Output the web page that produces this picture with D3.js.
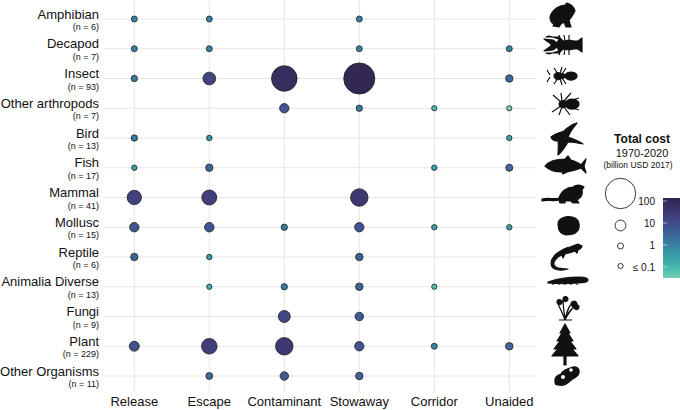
<!DOCTYPE html>
<html lang="en">
<head>
<meta charset="UTF-8">
<title>Invasion costs by pathway</title>
<style>
  body { margin: 0; background: #fff; }
  svg { display: block; font-family: "Liberation Sans", Arial, Helvetica, sans-serif; }
</style>
</head>
<body>
<div id="container"></div>
<script src="https://d3js.org/d3.v7.min.js"></script>
<script>
// taxa (rows), sample sizes and introduction pathways (columns)
var taxa = ["Amphibian", "Decapod", "Insect", "Other arthropods", "Bird", "Fish", "Mammal",
            "Mollusc", "Reptile", "Animalia Diverse", "Fungi", "Plant", "Other Organisms"];
var counts = [6, 7, 93, 7, 13, 17, 41, 15, 6, 13, 9, 229, 11];
var pathways = ["Release", "Escape", "Contaminant", "Stowaway", "Corridor", "Unaided"];

// total cost 1970-2020, billion USD 2017 (null = no recorded cost)
var costs = [
  [1.0, 1.0, null, 1.0, null, null],
  [1.0, 1.0, null, 1.0, null, 1.0],
  [1.5, 15, 70, 105, null, 3],
  [null, null, 6.7, 1.5, 0.1, 0.02],
  [1.5, 0.4, null, null, null, 0.25],
  [0.25, 3, null, null, 0.3, 2.5],
  [20, 22, null, 31, null, null],
  [6.7, 7, 1.5, 6.7, 0.3, 0.3],
  [3, 0.3, null, 3.3, null, null],
  [null, 0.15, 1.4, 3.3, 0.08, null],
  [null, null, 13, 5, null, null],
  [8, 24, 31, 6.7, 1.0, 3.3],
  [null, 2.3, 5, 3.3, null, null]
];

var legendBreaks = [100, 10, 1, 0.1];
var legendLabels = ["100", "10", "1", "\u2264 0.1"];

var width = 680, height = 410;

var svg = d3.select("#container").append("svg")
    .attr("width", width)
    .attr("height", height);

// scales
var x = d3.scalePoint().domain(pathways).range([134.3, 509.3]);
var y = d3.scalePoint().domain(taxa).range([19, 376]);
var r = d3.scaleRadial().domain([0, 100]).range([2.6, 15.2]);

// mako palette
var mako = d3.interpolateRgbBasis(["#0B0405", "#2C1E3D", "#3E356B", "#434C8E", "#3A74A0",
    "#359CAA", "#49C1AD", "#A0DFB9", "#DEF5E5"]);
var logPos = d3.scaleLinear().domain([2.14, -1.55]).range([0.16, 0.82]).clamp(true);
var color = function(v) { return mako(logPos(Math.log10(v))); };

// grid
var grid = svg.append("g").attr("stroke", "#e6e6e6").attr("stroke-width", 1);
grid.selectAll("line.h").data(taxa).enter().append("line")
    .attr("x1", 104).attr("x2", 536)
    .attr("y1", function(d) { return y(d); })
    .attr("y2", function(d) { return y(d); });
grid.selectAll("line.v").data(pathways).enter().append("line")
    .attr("x1", function(d) { return x(d); })
    .attr("x2", function(d) { return x(d); })
    .attr("y1", 0).attr("y2", 392);

// bubbles, biggest drawn first
var cells = [];
costs.forEach(function(row, i) {
  row.forEach(function(v, j) {
    if (v != null) cells.push({ taxon: taxa[i], path: pathways[j], value: v });
  });
});
cells.sort(function(a, b) { return b.value - a.value; });

svg.append("g").selectAll("circle").data(cells).enter().append("circle")
    .attr("cx", function(d) { return x(d.path); })
    .attr("cy", function(d) { return y(d.taxon); })
    .attr("r", function(d) { return r(d.value); })
    .attr("fill", function(d) { return color(d.value); })
    .attr("stroke", "#1e1e1e")
    .attr("stroke-width", 0.8);

// row labels
var rowLab = svg.append("g").attr("text-anchor", "end").attr("fill", "#111");
rowLab.selectAll("text.name").data(taxa).enter().append("text")
    .attr("x", 99)
    .attr("y", function(d) { return y(d) - 0.5; })
    .attr("font-size", 13)
    .text(function(d) { return d; });
rowLab.selectAll("text.n").data(taxa).enter().append("text")
    .attr("x", 99)
    .attr("y", function(d) { return y(d) + 11; })
    .attr("font-size", 9)
    .text(function(d, i) { return "(n = " + counts[i] + ")"; });

// column labels
svg.append("g").selectAll("text").data(pathways).enter().append("text")
    .attr("x", function(d) { return x(d); })
    .attr("y", 406)
    .attr("text-anchor", "middle")
    .attr("font-size", 13)
    .attr("fill", "#111")
    .text(function(d) { return d; });

// silhouettes (decorative), drawn in a local box around each row
var icons = {
  "Amphibian": { dx: 562, dy: 15, d: "M13,-4 C12,-8 9,-11 5,-12 L3,-10 C-2,-10 -8,-6 -11,-1 C-13,3 -12,7 -8,9 L-9,11 L-3,12 L-1,9 L2,7 L4,12 L9,12 L8,9 L7,5 C9,3 11,0 13,-4 Z" },
  "Decapod": { dx: 563, dy: 45, d: "M-19,-6 L-10,-5 L-6,-2 L-4,-6 L-14,-9 L-17,-8 L-4,-8 L0,-4 L6,-5 L11,-4 L15,-4 L19,-7 L19,7 L15,4 L11,4 L6,5 L0,4 L-4,8 L-17,8 L-14,9 L-4,6 L-6,2 L-10,5 L-19,6 L-12,1 L-12,-1 Z M-2,4 L-4,10 M2,4 L1,10 M6,4 L6,10 M-2,-4 L-4,-10 M2,-4 L1,-10 M6,-4 L6,-10" },
  "Insect": { dx: 562, dy: 76, d: "M-8,0 A4,3.5 0 1,1 -8,0.1 Z M-3,0 A3,2.5 0 1,1 -3,0.1 Z M3,0 A6,4 0 1,1 3,0.1 Z M-12,-1 L-15,-6 M-12,1 L-15,6 M-4,-2 L-8,-8 M-2,-2 L0,-9 M0,-2 L4,-8 M-4,2 L-8,8 M-2,2 L0,9 M0,2 L4,8" },
  "Other arthropods": { dx: 565, dy: 104, d: "M-6,0 A4,3.5 0 1,1 -6,0.1 Z M0,0 A7,5 0 1,1 0,0.1 Z M-4,-2 L-12,-9 M-3,-3 L-4,-11 M-1,-3 L6,-11 M0,-2 L14,-6 M-4,2 L-13,8 M-3,3 L-6,11 M-1,3 L5,11 M0,2 L14,6" },
  "Bird": { dx: 566, dy: 139, d: "M-15,-2 C-10,-6 -6,-6 -2,-8 C2,-12 6,-15 11,-16 C6,-10 3,-5 2,-2 C8,0 13,2 17,5 C11,4 6,3 2,3 C0,6 -3,12 -8,16 C-8,10 -7,6 -8,2 C-11,2 -14,1 -15,-2 Z" },
  "Fish": { dx: 565, dy: 166, d: "M-20,0 C-16,-5 -8,-7 0,-7 L3,-10 L6,-6 C10,-5 14,-3 16,-1 L21,-7 L19,0 L21,7 L16,2 C12,4 6,5 2,6 L-2,8 L-3,6 C-10,6 -16,4 -20,0 Z" },
  "Mammal": { dx: 563, dy: 194, d: "M-21,5 C-14,3 -10,6 -4,4 C-2,-3 4,-7 10,-7 C14,-10 18,-9 21,-7 L19,-4 C20,0 18,4 14,6 L16,9 L10,9 L8,7 L2,7 L2,9 L-3,9 L-4,6 C-10,8 -15,5 -21,7 Z" },
  "Mollusc": { dx: 568, dy: 226, d: "M-10,-2 C-10,-8 -2,-10 4,-9 C10,-8 12,-3 11,2 C10,7 4,9 -2,9 C-8,8 -10,4 -10,-2 Z" },
  "Reptile": { dx: 566, dy: 257, d: "M16,-11 L12,-13 L4,-10 C-2,-9 -6,-6 -10,-3 C-14,1 -16,6 -14,10 C-12,13 -4,14 2,12 C-4,12 -11,12 -12,8 C-13,4 -9,0 -4,-2 L-3,1 L-1,-3 C3,-4 7,-5 9,-6 L11,-4 L12,-7 C14,-8 16,-9 16,-11 Z" },
  "Animalia Diverse": { dx: 568, dy: 280, d: "M-20,2 C-12,-1 0,-3 12,-3 C17,-3 20,-2 20,0 C20,2 16,3 10,3 C0,4 -10,4 -20,3 Z M-14,0 L-15,5 M-8,-1 L-9,5 M-2,-2 L-3,5 M4,-2 L3,5 M10,-2 L9,5" },
  "Fungi": { dx: 565, dy: 308, d: "M0,12 C-2,6 -5,0 -8,-6 M0,12 C-1,4 -2,-2 -2,-9 M0,12 C1,6 3,0 6,-4 M0,12 C2,7 5,2 9,-1 M-6,12 L7,12 M-8,-6 A2.5,2.5 0 1,1 -8,-5.9 Z M-2,-9 A2.5,2.5 0 1,1 -2,-8.9 Z M6,-4 A3,3 0 1,1 6,-3.9 Z M9,-1 A2.5,2.5 0 1,1 9,-0.9 Z" },
  "Plant": { dx: 565, dy: 344, d: "M0,-20 L5,-11 L3,-11 L8,-3 L5,-3 L11,5 L7,5 L13,12 L1,12 L1,21 L-1,21 L-1,12 L-13,12 L-7,5 L-11,5 L-5,-3 L-8,-3 L-3,-11 L-5,-11 Z" },
  "Other Organisms": { dx: 567, dy: 376, d: "M-12,6 C-13,2 -10,-1 -6,-2 C-4,-6 2,-8 6,-9 C10,-10 13,-7 12,-3 C11,1 6,2 3,5 C0,8 -5,10 -9,9 C-11,9 -12,8 -12,6 Z" }
};

var iconG = svg.append("g");
taxa.forEach(function(t) {
  var ic = icons[t];
  iconG.append("path")
      .attr("transform", "translate(" + ic.dx + "," + ic.dy + ")")
      .attr("d", ic.d)
      .attr("fill", "#111")
      .attr("stroke", "#111")
      .attr("stroke-width", 1.2)
      .attr("stroke-linejoin", "round");
});
// white specks on the last silhouette
iconG.selectAll("circle.spot").data([[563, 377, 2], [571, 370, 1.8]]).enter().append("circle")
    .attr("cx", function(d) { return d[0]; })
    .attr("cy", function(d) { return d[1]; })
    .attr("r", function(d) { return d[2]; })
    .attr("fill", "#fff");

// legend
var leg = svg.append("g").attr("fill", "#111");
leg.append("text").attr("x", 642).attr("y", 143).attr("text-anchor", "middle")
    .attr("font-size", 12).attr("font-weight", "bold").text("Total cost");
leg.append("text").attr("x", 642).attr("y", 157).attr("text-anchor", "middle")
    .attr("font-size", 11).text("1970-2020");
leg.append("text").attr("x", 638).attr("y", 168).attr("text-anchor", "middle")
    .attr("font-size", 8.5).text("(billion USD 2017)");

var legY = d3.scaleLinear().domain([2, -1]).range([201, 267]);
var sizeY = [193.5, 225.5, 246, 266];

leg.selectAll("circle").data(legendBreaks).enter().append("circle")
    .attr("cx", 620.5)
    .attr("cy", function(d, i) { return sizeY[i]; })
    .attr("r", function(d) { return r(d); })
    .attr("fill", "#fff")
    .attr("stroke", "#222")
    .attr("stroke-width", 0.9);

leg.selectAll("text.lab").data(legendBreaks).enter().append("text")
    .attr("x", 655)
    .attr("y", function(d) { return legY(Math.log10(d)) + 3.5; })
    .attr("text-anchor", "end")
    .attr("font-size", 10)
    .text(function(d, i) { return legendLabels[i]; });

// colour bar
var grad = svg.append("defs").append("linearGradient")
    .attr("id", "costGrad").attr("x1", 0).attr("x2", 0).attr("y1", 0).attr("y2", 1);
var barTop = 198, barBot = 278;
d3.range(0, 1.0001, 0.05).forEach(function(f) {
  var lv = legY.invert(barTop + f * (barBot - barTop));
  grad.append("stop").attr("offset", f).attr("stop-color", color(Math.pow(10, lv)));
});
svg.append("rect").attr("x", 663).attr("y", barTop).attr("width", 20)
    .attr("height", barBot - barTop).attr("fill", "url(#costGrad)");
svg.append("g").selectAll("line").data(legendBreaks).enter().append("line")
    .attr("x1", 663).attr("x2", 667)
    .attr("y1", function(d) { return legY(Math.log10(d)); })
    .attr("y2", function(d) { return legY(Math.log10(d)); })
    .attr("stroke", "#fff").attr("stroke-width", 0.8).attr("opacity", 0.7);
</script>
</body>
</html>
